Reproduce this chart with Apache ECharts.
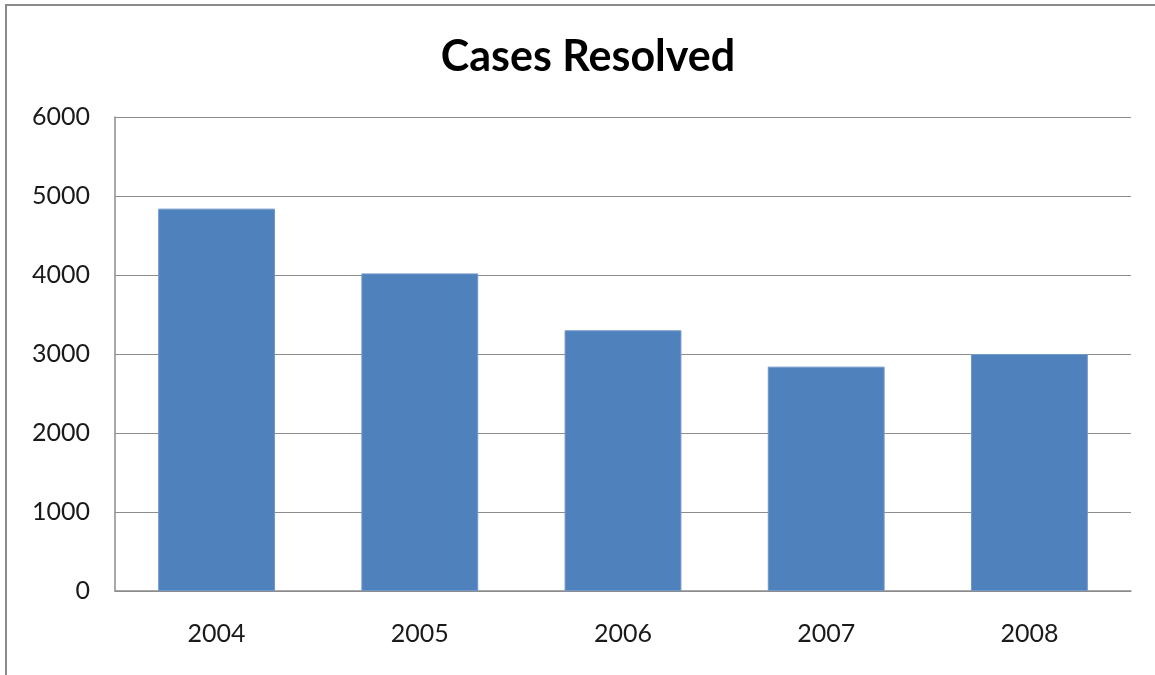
<!DOCTYPE html>
<html>
<head>
<meta charset="utf-8">
<title>Cases Resolved</title>
<script src="https://cdn.jsdelivr.net/npm/echarts@6/dist/echarts.min.js"></script>
<style>
  html, body { margin: 0; padding: 0; background: #fff; }
  #frame { position: absolute; left: 5px; top: 4px; width: 1200px; height: 700px;
           border-left: 2px solid #8a8a8a; border-top: 2px solid #8a8a8a; }
  #chart { position: absolute; left: 0; top: 0; width: 1155px; height: 675px; }
</style>
</head>
<body>
<div id="frame"></div>
<div id="chart"></div>
<script>
// values
const years = ['2004', '2005', '2006', '2007', '2008'];
const casesResolved = [4840, 4020, 3300, 2840, 3000];
const yTicks = [0, 1000, 2000, 3000, 4000, 5000, 6000];

const mychart = echarts.init(document.getElementById('chart'));
const labelFont = { fontFamily: 'Lato', fontSize: 25, color: '#1a1a1a' };

const option = {
    animation: false,
    title: {
        text: 'Cases Resolved',
        left: 583,
        textAlign: 'center',
        top: 31,
        textStyle: { fontFamily: 'Lato', fontWeight: 'bold', fontSize: 43, color: '#000' }
    },
    grid: { left: 115, right: 24, top: 117, bottom: 84 },
    xAxis: {
        type: 'category',
        data: years,
        axisLine: { lineStyle: { color: '#8c8c8c', width: 1.5 } },
        axisTick: { show: false },
        axisLabel: Object.assign({ margin: 30 }, labelFont)
    },
    yAxis: {
        type: 'value',
        min: yTicks[0],
        max: yTicks[yTicks.length - 1],
        interval: 1000,
        axisLine: { show: true, lineStyle: { color: '#8c8c8c', width: 1.5 } },
        axisTick: { show: false },
        splitLine: { lineStyle: { color: '#8c8c8c', width: 1 } },
        axisLabel: Object.assign({ margin: 25, formatter: v => String(v) }, labelFont)
    },
    series: [{
        type: 'bar',
        data: casesResolved,
        barWidth: '57.5%',
        itemStyle: { color: '#4f81bd', borderColor: '#7098cb', borderWidth: 1 }
    }]
};

mychart.setOption(option);
window.onresize = mychart.resize;
</script>
</body>
</html>
